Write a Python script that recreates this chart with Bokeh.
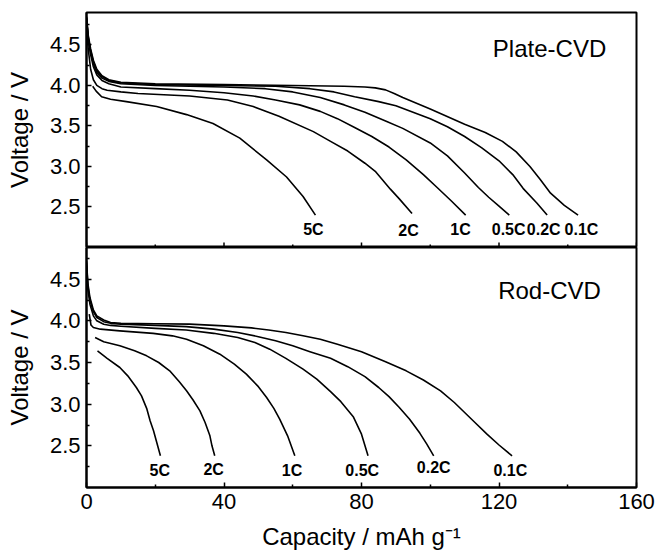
import math
from bokeh.plotting import figure
from bokeh.layouts import column
from bokeh.models import FixedTicker, Range1d, NumeralTickFormatter, ColumnDataSource
from bokeh.core.properties import value
from bokeh.embed import file_html
from bokeh.resources import INLINE

# ---------------- data: Plate-CVD (top panel) ----------------
plate_01C_cap = [0, 0.5, 1.2, 2, 3, 4.5, 6.5, 10, 20, 40, 60, 75, 81, 84, 87, 89.5, 92, 100, 110, 116, 121, 125, 129, 132, 135, 139, 143]
plate_01C_v = [4.85, 4.62, 4.45, 4.31, 4.2, 4.12, 4.07, 4.04, 4.02, 4.01, 4.0, 3.99, 3.98, 3.97, 3.945, 3.90, 3.85, 3.71, 3.52, 3.42, 3.31, 3.18, 3.0, 2.84, 2.67, 2.52, 2.40]
plate_02C_cap = [0, 0.5, 1.2, 2, 3, 4.5, 6.5, 10, 20, 40, 55, 65, 72, 78, 85, 90, 100, 105, 110, 115, 120, 124, 127, 131, 134]
plate_02C_v = [4.84, 4.6, 4.43, 4.29, 4.18, 4.11, 4.06, 4.03, 4.01, 4.0, 3.99, 3.96, 3.92, 3.86, 3.80, 3.75, 3.59, 3.49, 3.37, 3.23, 3.07, 2.90, 2.73, 2.55, 2.40]
plate_05C_cap = [0, 0.5, 1.2, 2, 3, 4.5, 6.5, 10, 20, 40, 52, 60, 68, 75, 81, 87, 92, 100, 105, 110, 114, 117, 120, 123]
plate_05C_v = [4.83, 4.58, 4.41, 4.27, 4.16, 4.09, 4.05, 4.02, 4.0, 3.98, 3.96, 3.92, 3.85, 3.76, 3.67, 3.56, 3.47, 3.29, 3.13, 2.92, 2.74, 2.62, 2.51, 2.40]
plate_1C_cap = [0, 0.5, 1.2, 2, 3, 4.5, 6.5, 10, 20, 30, 40, 48.5, 55, 62, 68, 73, 78, 83, 88, 93, 98, 102, 106, 110.3]
plate_1C_v = [4.82, 4.56, 4.38, 4.23, 4.13, 4.06, 4.02, 3.98, 3.96, 3.94, 3.91, 3.87, 3.82, 3.76, 3.68, 3.59, 3.48, 3.37, 3.24, 3.08, 2.90, 2.74, 2.58, 2.40]
plate_2C_cap = [0, 0.5, 1.2, 2, 3, 4.5, 6, 10, 15, 30, 41, 48.5, 56, 66, 71, 76, 81, 84, 88.4, 91, 94.7]
plate_2C_v = [4.76, 4.45, 4.2, 4.07, 4.0, 3.96, 3.94, 3.92, 3.90, 3.87, 3.82, 3.74, 3.62, 3.43, 3.31, 3.19, 3.04, 2.94, 2.72, 2.60, 2.42]
plate_5C_cap = [1.8, 2.8, 4.4, 7, 11.6, 20.4, 29.1, 36.8, 44.6, 52.4, 58.2, 63, 66.6]
plate_5C_v = [3.99, 3.93, 3.86, 3.83, 3.80, 3.74, 3.64, 3.53, 3.35, 3.08, 2.87, 2.63, 2.40]

# ---------------- data: Rod-CVD (bottom panel) ----------------
rod_01C_cap = [0, 0.4, 1, 2, 3, 5, 7, 10, 20, 30, 40, 48, 53, 58, 63, 68, 73, 80, 87, 93, 98, 103, 107, 110, 113, 116.5, 120, 123.8]
rod_01C_v = [4.72, 4.45, 4.28, 4.13, 4.06, 4.01, 3.98, 3.97, 3.965, 3.96, 3.94, 3.915, 3.89, 3.86, 3.82, 3.78, 3.72, 3.63, 3.51, 3.40, 3.29, 3.16, 3.02, 2.90, 2.78, 2.64, 2.51, 2.38]
rod_02C_cap = [0, 0.4, 1, 2, 3, 5, 7, 10, 20, 29, 37, 44, 50, 55, 60, 65, 71, 76, 81, 85, 88, 91, 94, 97, 99, 101]
rod_02C_v = [4.70, 4.42, 4.25, 4.11, 4.04, 3.99, 3.97, 3.96, 3.945, 3.93, 3.90, 3.86, 3.81, 3.76, 3.70, 3.63, 3.55, 3.45, 3.33, 3.20, 3.09, 2.96, 2.82, 2.65, 2.52, 2.38]
rod_05C_cap = [0, 0.4, 1, 2, 3, 5, 7, 10, 20, 29, 37, 44, 49, 53.3, 58, 63, 67, 71, 74, 77.6, 80, 81.9]
rod_05C_v = [4.66, 4.38, 4.2, 4.06, 4.0, 3.96, 3.945, 3.935, 3.91, 3.89, 3.85, 3.80, 3.74, 3.66, 3.55, 3.42, 3.30, 3.15, 3.03, 2.85, 2.64, 2.38]
rod_1C_cap = [0.8, 1.3, 2, 4, 9.7, 19.4, 25, 29.1, 34, 38.8, 43, 46.5, 50, 52.4, 54.5, 56.2, 58.5, 60.6]
rod_1C_v = [4.08, 3.95, 3.92, 3.90, 3.88, 3.85, 3.82, 3.78, 3.70, 3.60, 3.48, 3.36, 3.21, 3.08, 2.95, 2.82, 2.62, 2.38]
rod_2C_cap = [2.5, 5, 9.7, 14, 17.5, 21, 24.2, 27, 29.1, 31, 33, 34.5, 35.9, 36.5, 37.3]
rod_2C_v = [3.80, 3.75, 3.70, 3.64, 3.58, 3.50, 3.40, 3.27, 3.16, 3.05, 2.92, 2.78, 2.62, 2.50, 2.38]
rod_5C_cap = [3.2, 6, 9.7, 12, 14.5, 16, 17.5, 18.5, 19.5, 20.5, 21.5]
rod_5C_v = [3.64, 3.55, 3.44, 3.34, 3.20, 3.10, 2.95, 2.80, 2.68, 2.53, 2.38]

# curve labels
rate_labels = ["5C", "2C", "1C", "0.5C", "0.2C", "0.1C"]
plate_label_cap = [66, 93.7, 108.8, 122.8, 133, 144]
plate_label_v = [2.22, 2.21, 2.22, 2.22, 2.22, 2.22]
rod_label_cap = [21.3, 37, 59.8, 80.2, 101, 123.3]
rod_label_v = [2.21, 2.22, 2.20, 2.21, 2.24, 2.20]

panel_names = ["Plate-CVD", "Rod-CVD"]
panel_name_cap = [134.7, 134.7]
panel_name_v = [4.46, 4.37]

x_major = [0, 40, 80, 120, 160]
x_minor = [20, 60, 100, 140]
y_major = [2.5, 3.0, 3.5, 4.0, 4.5]
y_minor = [2.25, 2.75, 3.25, 3.75, 4.25, 4.75]

FONT = "Liberation Sans"


def style_axis(ax):
    ax.axis_line_width = 2
    ax.axis_line_color = "black"
    ax.major_tick_in = 5
    ax.major_tick_out = 0
    ax.minor_tick_in = 3
    ax.minor_tick_out = 0
    ax.major_tick_line_width = 1.5
    ax.minor_tick_line_width = 1.5
    ax.major_tick_line_color = "black"
    ax.minor_tick_line_color = "black"
    ax.major_label_text_font = FONT
    ax.major_label_text_font_size = "22px"
    ax.major_label_text_color = "black"
    ax.axis_label_text_font = FONT
    ax.axis_label_text_font_size = "24px"
    ax.axis_label_text_font_style = "normal"
    ax.axis_label_text_color = "black"


def style(p, show_x_axis):
    p.xgrid.visible = False
    p.ygrid.visible = False
    p.outline_line_color = "black"
    p.outline_line_width = 2
    p.background_fill_color = "white"
    p.border_fill_color = "white"
    style_axis(p.yaxis[0])
    p.yaxis[0].ticker = FixedTicker(ticks=y_major, minor_ticks=y_minor)
    p.yaxis[0].formatter = NumeralTickFormatter(format="0.0")
    p.yaxis[0].axis_label = "Voltage / V"
    p.yaxis[0].major_label_standoff = 6
    p.yaxis[0].axis_label_standoff = 14
    if show_x_axis:
        style_axis(p.xaxis[0])
        p.xaxis[0].ticker = FixedTicker(ticks=x_major, minor_ticks=x_minor)
        p.xaxis[0].axis_label = "Capacity / mAh g\u207b\u00b9"
        p.xaxis[0].major_label_standoff = 6
        p.xaxis[0].axis_label_standoff = 11
    else:
        p.xaxis.visible = False
        # inward ticks on the shared boundary (clipped to the frame, so only the upper half shows)
        p.scatter(x=x_major, y=[p.y_range.start] * len(x_major), marker="dash", size=10,
                  angle=math.pi / 2, line_color="black", line_width=1.5)
        p.scatter(x=x_minor, y=[p.y_range.start] * len(x_minor), marker="dash", size=6,
                  angle=math.pi / 2, line_color="black", line_width=1.5)


def add_curves(p, curves, lab_x, lab_y, name, name_x, name_y):
    for cx, cy in curves:
        p.line(cx, cy, line_color="black", line_width=1.6, line_join="round")
    src = ColumnDataSource(dict(x=lab_x, y=lab_y, t=rate_labels))
    p.text(x="x", y="y", text="t", source=src, text_font=value(FONT),
           text_font_size="16px", text_font_style="bold", text_align="center",
           text_baseline="middle", text_color="black")
    p.text(x=[name_x], y=[name_y], text=[name], text_font=value(FONT),
           text_font_size="24px", text_align="center", text_baseline="middle",
           text_color="black")


top = figure(frame_width=550, frame_height=235, x_range=Range1d(0, 160),
             y_range=Range1d(2.0, 4.9), output_backend="svg", toolbar_location=None,
             min_border_left=86, min_border_right=20, min_border_top=12, min_border_bottom=0)
style(top, False)
add_curves(top,
           [(plate_01C_cap, plate_01C_v), (plate_02C_cap, plate_02C_v), (plate_05C_cap, plate_05C_v),
            (plate_1C_cap, plate_1C_v), (plate_2C_cap, plate_2C_v), (plate_5C_cap, plate_5C_v)],
           plate_label_cap, plate_label_v, panel_names[0], panel_name_cap[0], panel_name_v[0])

bottom = figure(frame_width=550, frame_height=240, x_range=Range1d(0, 160),
                y_range=Range1d(2.0, 4.88), output_backend="svg", toolbar_location=None,
                min_border_left=86, min_border_right=20, min_border_top=0, min_border_bottom=0)
style(bottom, True)
add_curves(bottom,
           [(rod_01C_cap, rod_01C_v), (rod_02C_cap, rod_02C_v), (rod_05C_cap, rod_05C_v),
            (rod_1C_cap, rod_1C_v), (rod_2C_cap, rod_2C_v), (rod_5C_cap, rod_5C_v)],
           rod_label_cap, rod_label_v, panel_names[1], panel_name_cap[1], panel_name_v[1])

layout = column(top, bottom, spacing=0)
open("out.html", "w").write(file_html(layout, INLINE))
